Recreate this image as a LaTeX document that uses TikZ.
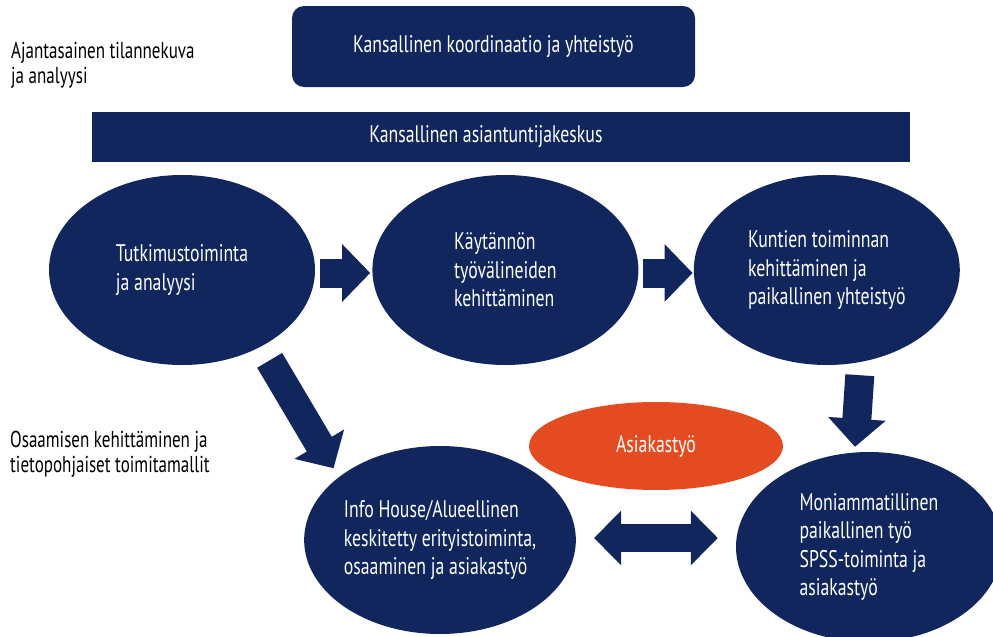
\documentclass[tikz,border=0pt]{standalone}
\usepackage{fontspec}
\setmainfont{PT Sans}[FakeStretch=0.74]
\usetikzlibrary{arrows.meta,positioning,shapes.geometric}
\definecolor{navy}{RGB}{17,38,92}
\definecolor{rust}{RGB}{228,75,32}

\begin{document}
\begin{tikzpicture}[x=1pt,y=-1pt,
  every node/.style={font=\fontsize{24}{28.5}\selectfont},
  blob/.style={ellipse,fill=navy,text=white,align=left,minimum width=266pt,minimum height=190pt,inner sep=0pt},
  banner/.style={fill=navy,text=white,inner sep=0pt},
  barrow/.style={navy,line width=29pt,-{Triangle[length=28pt,width=56pt]}},
  note/.style={align=left,anchor=north west,inner sep=0pt,font=\fontsize{23}{24.5}\selectfont}]
	\clip (0,0) rectangle (993,637);

	\node[banner,rounded corners=12pt,minimum width=403pt,minimum height=81pt] (koord) at (493.5,46.5) {Kansallinen koordinaatio ja yhteistyö};
	\node[banner,minimum width=818pt,minimum height=50pt] (keskus) at (501,137) {Kansallinen asiantuntijakeskus\hspace*{30pt}};
	\node[note] (ajan) at (11,42) {Ajantasainen tilannekuva\\ja analyysi};
	\node[note] (osaa) at (10,431) {Osaamisen kehittäminen ja\\tietopohjaiset toimitamallit};

	\node[blob] (tutk) at (182,270) {Tutkimustoiminta\\ja analyysi};
	\node[blob] (kayt) [right=57pt of tutk] {Käytännön\\työvälineiden\\kehittäminen};
	\node[blob] (kunt) [right=55pt of kayt] {Kuntien toiminnan\\kehittäminen ja\\paikallinen yhteistyö};
	\node[blob,minimum height=188pt] (info) at (440,540) {Info House/Alueellinen\\keskitetty erityistoiminta,\\osaaminen ja asiakastyö};
	\node[blob] (moni) at (869,547) {Moniammatillinen\\paikallinen työ\\SPSS-toiminta ja\\asiakastyö};
	\node[ellipse,fill=rust,text=white,minimum width=254pt,minimum height=88pt,inner sep=0pt] (asiak) at (656,446) {Asiakastyö};

	% block arrows
	\draw[barrow,shorten <=5pt,shorten >=2pt] ([yshift=-3pt]tutk.east) -- ([yshift=-3pt]kayt.west);
	\draw[barrow,shorten <=4pt,shorten >=1pt] ([yshift=-3pt]kayt.east) -- ([yshift=-3pt]kunt.west);
	\draw[barrow] ([xshift=33pt,yshift=-10pt]kunt.south) -- ([xshift=-14pt,yshift=5pt]moni.north);
	\draw[barrow] ([xshift=12pt,yshift=-12pt]tutk.-46) -- ([xshift=-9pt,yshift=6pt]info.146);
	\draw[barrow,line width=28pt,{Triangle[length=27pt,width=53pt]}-{Triangle[length=27pt,width=53pt]}] ([xshift=18pt,yshift=2pt]info.east) -- ([xshift=-18pt,yshift=9pt]moni.west);
\end{tikzpicture}
\end{document}
